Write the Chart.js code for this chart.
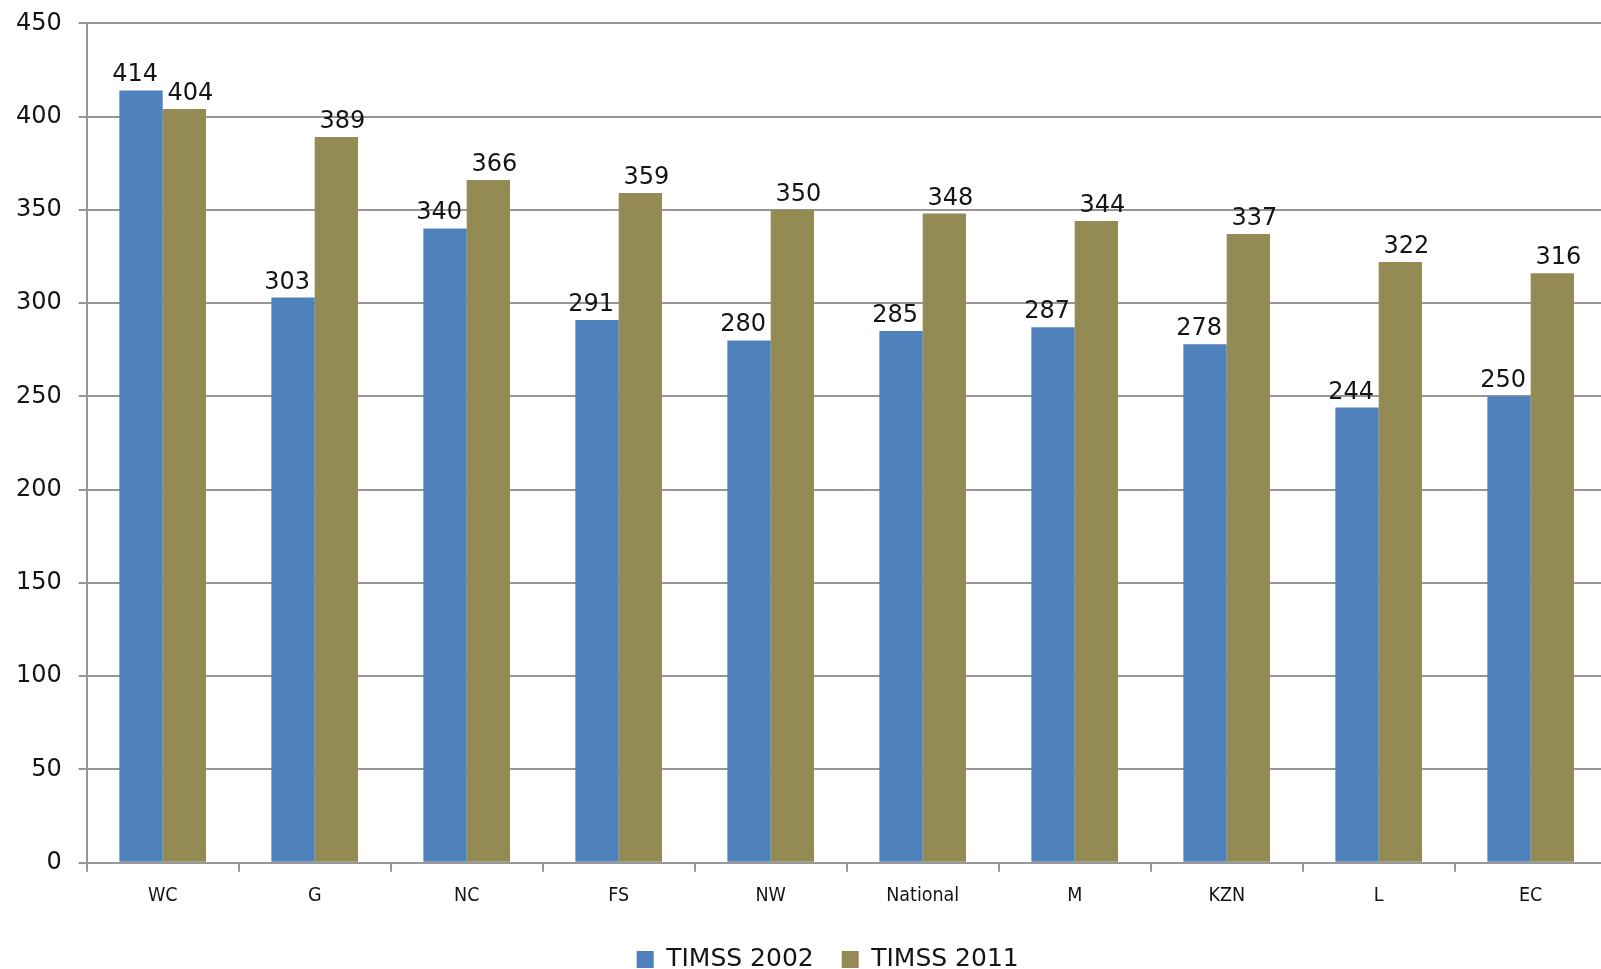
<!DOCTYPE html>
<html>
<head>
<meta charset="utf-8">
<script src="https://cdn.jsdelivr.net/npm/chart.js@4"></script>
<style>
  html, body { margin: 0; padding: 0; background: #fff; overflow: hidden; }
  #wrap { width: 1601px; height: 969px; overflow: hidden; position: relative; }
  #chart { display: block; }
</style>
</head>
<body>
<div id="wrap"><canvas id="chart" width="1656" height="969"></canvas></div>
<script>
// provinces, ordered by 2011 score
const provinces = ['WC', 'G', 'NC', 'FS', 'NW', 'National', 'M', 'KZN', 'L', 'EC'];
const timss2002 = [414, 303, 340, 291, 280, 285, 287, 278, 244, 250];
const timss2011 = [404, 389, 366, 359, 350, 348, 344, 337, 322, 316];
const yTicks = [0, 50, 100, 150, 200, 250, 300, 350, 400, 450];

const BLUE = '#4f81bd';
const OLIVE = '#948a54';
const LINE = '#979797';
const INK = '#151515';
const NUM_FONT = { family: '"DejaVu Sans", sans-serif', size: 24 };
const CAT_FONT = { family: '"DejaVu Sans Condensed", "DejaVu Sans", sans-serif', size: 19.5 };

// value printed above each bar, nudged outward from the pair
const valueLabels = {
    id: 'valueLabels',
    afterDatasetsDraw(chart) {
        const ctx = chart.ctx;
        ctx.save();
        ctx.font = `${NUM_FONT.size}px ${NUM_FONT.family}`;
        ctx.fillStyle = INK;
        ctx.textAlign = 'center';
        ctx.textBaseline = 'alphabetic';
        chart.data.datasets.forEach((ds, i) => {
            const shift = i === 0 ? -6 : 6;
            chart.getDatasetMeta(i).data.forEach((bar, j) => {
                ctx.fillText(String(ds.data[j]), bar.x + shift, bar.y - 9);
            });
        });
        ctx.restore();
    }
};

// legend sits a little left of the plot centre
const legendShift = {
    id: 'legendShift',
    afterLayout(chart) {
        const lg = chart.legend;
        if (!lg) return;
        lg.left -= 19;
        lg.right -= 19;
    }
};

new Chart(document.getElementById('chart'), {
    type: 'bar',
    data: {
        labels: provinces,
        datasets: [
            { label: 'TIMSS 2002', data: timss2002, backgroundColor: BLUE },
            { label: 'TIMSS 2011', data: timss2011, backgroundColor: OLIVE }
        ]
    },
    options: {
        responsive: false,
        devicePixelRatio: 1,
        animation: false,
        categoryPercentage: 0.57,
        barPercentage: 1.0,
        layout: { padding: { top: 23.3, left: 0, right: 49.3, bottom: 0 } },
        scales: {
            x: {
                grid: { drawOnChartArea: false, drawTicks: true, tickLength: 9, color: LINE, lineWidth: 2 },
                border: { color: LINE, width: 2 },
                ticks: { font: CAT_FONT, color: INK, padding: 12.5 },
                afterFit: s => { s.height = 56.3; }
            },
            y: {
                min: 0,
                max: 450,
                afterBuildTicks: s => { s.ticks = yTicks.map(v => ({ value: v })); },
                grid: { color: LINE, lineWidth: 2, tickLength: 8 },
                border: { color: LINE, width: 2 },
                ticks: { font: NUM_FONT, color: INK, padding: 17 },
                afterFit: s => {
                    s.width = 86.7;
                    s.paddingTop = 0;
                    s.paddingBottom = 0;
                }
            }
        },
        plugins: {
            legend: {
                position: 'bottom',
                fullSize: false,
                maxHeight: 50,
                labels: { boxWidth: 17, boxHeight: 17, padding: 28, font: { family: NUM_FONT.family, size: 25 }, color: INK }
            },
            tooltip: { enabled: false }
        }
    },
    plugins: [valueLabels, legendShift]
});
</script>
</body>
</html>
